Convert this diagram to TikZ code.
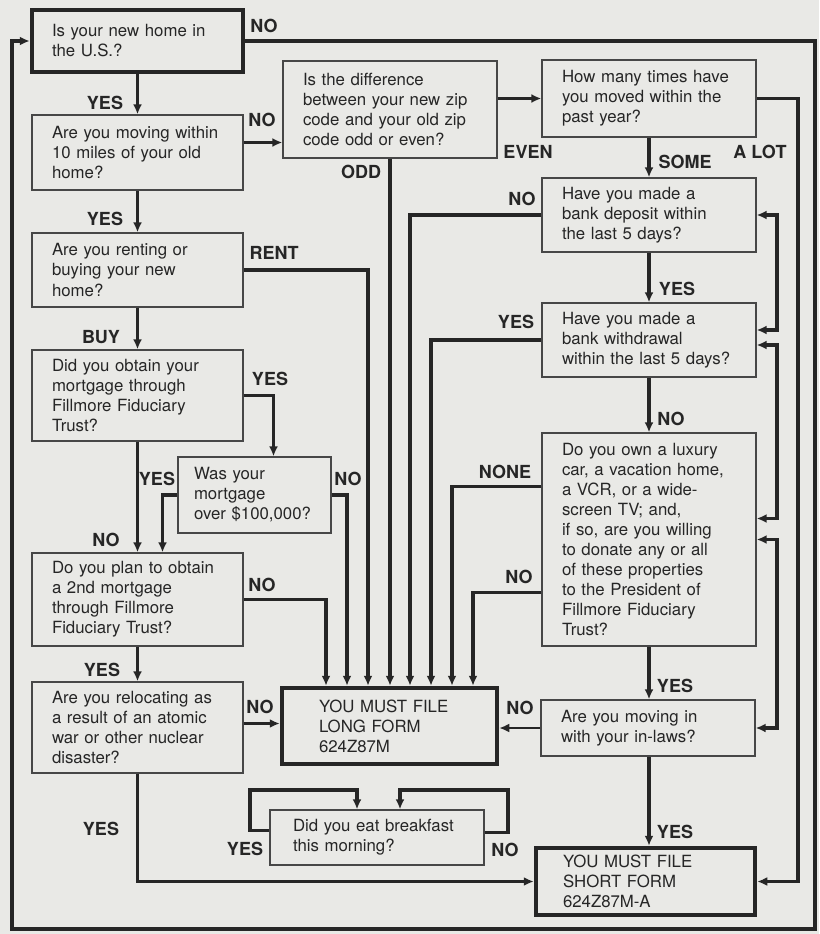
\documentclass[tikz,border=0pt]{standalone}
\usepackage{fontspec}
\setmainfont{TeX Gyre Heros}
\usepackage{tikz}
\usetikzlibrary{arrows.meta,calc}
\definecolor{paper}{RGB}{233,233,230}
\definecolor{ink}{RGB}{38,38,38}
\newcommand{\qfont}{\fontsize{16.8}{20}\selectfont}
\newcommand{\lfont}{\bfseries\fontsize{18}{20}\selectfont}

\begin{document}
\begin{tikzpicture}[x=1pt,y=-1pt,
  >={Latex[length=10pt,width=9pt]},
  q/.style n args={3}{draw=ink!85,line width=1.3pt,text=ink,font=\qfont,align=left,
    inner xsep=20pt,inner ysep=0pt,minimum width=#1,minimum height=#2,text width=#3},
  endbox/.style={line width=4.5pt,draw=ink},
  flow/.style={draw=ink,line width=3.2pt,->},
  flow2/.style={draw=ink,line width=3.2pt,<->},
  lbl/.style={text=ink,font=\lfont,inner sep=0pt}]
\fill [paper] (0,0) rectangle (819,934);
\useasboundingbox (0,0) rectangle (819,934);
\node [q={211pt}{62pt}{171pt},endbox] (home) at (137.5,41) {Is your new home in\\the U.S.?};
\node [q={211pt}{75pt}{171pt}] (near) at (137.5,152.5) {Are you moving within\\10 miles of your old\\home?};
\node [q={211pt}{74pt}{171pt}] (rent) at (137.5,270) {Are you renting or\\buying your new\\home?};
\node [q={211pt}{91pt}{171pt}] (mort) at (137.5,395.5) {Did you obtain your\\mortgage through\\Fillmore Fiduciary\\Trust?};
\node [q={153pt}{76pt}{121pt},inner xsep=16pt] (over) at (254.5,495) {Was your\\mortgage\\over \$100,000?};
\node [q={211pt}{93pt}{171pt}] (second) at (137.5,599.5) {Do you plan to obtain\\a 2nd mortgage\\through Fillmore\\Fiduciary Trust?};
\node [q={211pt}{91pt}{171pt}] (atomic) at (137.5,727.5) {Are you relocating as\\a result of an atomic\\war or other nuclear\\disaster?};
\node [q={214pt}{97pt}{174pt}] (zip) at (390,109.5) {Is the difference\\between your new zip\\code and your old zip\\code odd or even?};
\node [q={214pt}{77pt}{174pt}] (moves) at (649,98.5) {How many times have\\you moved within the\\past year?};
\node [q={214pt}{74pt}{174pt}] (deposit) at (649,215) {Have you made a\\bank deposit within\\the last 5 days?};
\node [q={214pt}{74pt}{174pt}] (withdraw) at (649,340) {Have you made a\\bank withdrawal\\within the last 5 days?};
\node [q={214pt}{213pt}{174pt}] (luxury) at (649,539.5) {Do you own a luxury\\car, a vacation home,\\a VCR, or a wide-\\screen TV; and,\\if so, are you willing\\to donate any or all\\of these properties\\to the President of\\Fillmore Fiduciary\\Trust?};
\node [q={214pt}{56pt}{174pt}] (inlaws) at (648,728) {Are you moving in\\with your in-laws?};
\node [q={215pt}{76pt}{141pt},inner xsep=37pt,endbox] (long) at (389.5,726) {YOU MUST FILE\\LONG FORM\\624Z87M};
\node [q={219pt}{67pt}{165pt},inner xsep=27pt,endbox] (short) at (645.5,881.5) {YOU MUST FILE\\SHORT FORM\\624Z87M-A};
\node [q={214pt}{55pt}{168pt},inner xsep=23pt] (bfast) at (377,837.5) {Did you eat breakfast\\this morning?};
\coordinate (c1) at (326,0);
\coordinate (c2) at (347,0);
\coordinate (c3) at (368,0);
\coordinate (c5) at (410,0);
\coordinate (c6) at (431,0);
\coordinate (c7) at (452,0);
\coordinate (c8) at (473,0);
\coordinate (rail) at (777,0);
\coordinate (alot) at (798,500);
\coordinate (loopR) at (815,929);
\coordinate (loopL) at (12,929);
\coordinate (by) at (250,790);
\coordinate (bn) at (508,790);
\draw [flow] (home.east) -| (loopR) |- (loopL) |- (home.west);
\draw [flow] (home.south) -- (near.north);
\draw [flow,line width=2.4pt] ($(near.east)+(0,-10)$) coordinate (nz) -- (nz -| zip.west);
\draw [flow] (near.south) -- (rent.north);
\draw [flow] (rent.east) -| (c3 |- long.north);
\draw [flow] (rent.south) -- (mort.north);
\draw [flow] (mort.east) -| ($(over.north)+(19,0)$);
\draw [flow] (mort.south) -- (second.north);
\draw [flow] (over.west) -| ($(second.north)+(25,0)$);
\draw [flow] (over.east) -| (c2 |- long.north);
\draw [flow] (second.east) -| (c1 |- long.north);
\draw [flow] (second.south) -- (atomic.north);
\draw [flow,line width=2.4pt] ($(atomic.east)+(0,-4)$) coordinate (an) -- (an -| long.west);
\draw [flow] (atomic.south) |- (short.west);
\draw [flow] (zip.south) -- (zip.south |- long.north);
\draw [flow] (zip.east |- moves.west) -- (moves.west);
\draw [flow] (moves.east) -| (alot) |- (short.east);
\draw [flow] (moves.south) -- (deposit.north);
\draw [flow] (deposit.west) -| (c5 |- long.north);
\draw [flow] (deposit.south) -- (withdraw.north);
\draw [flow] (withdraw.west) -| (c6 |- long.north);
\draw [flow] (withdraw.south) -- (luxury.north);
\draw [flow] ($(luxury.west)+(0,-53)$) -| (c7 |- long.north);
\draw [flow] ($(luxury.west)+(0,53)$) -| (c8 |- long.north);
\draw [flow] (luxury.south) -- (luxury.south |- inlaws.north);
\draw [flow,line width=2.4pt] (inlaws.west) -- (inlaws.west -| long.east);
\draw [flow] (luxury.south |- inlaws.south) -- (luxury.south |- short.north);
\draw [flow2] (deposit.east) -- (deposit.east -| rail) |- ($(withdraw.east)+(0,-10)$);
\draw [flow2] ($(withdraw.east)+(0,5)$) coordinate (w2) -- (w2 -| rail) |- ($(luxury.east)+(0,-21)$);
\draw [flow2] (luxury.east) -- (luxury.east -| rail) |- (inlaws.east);
\draw [flow] ($(bfast.west)+(0,-7)$) -| (by) -| ($(bfast.north)+(-20,0)$);
\draw [flow] ($(bfast.east)+(0,-5)$) -| (bn) -| ($(bfast.north)+(23,0)$);
\node [lbl] (lno1) at (264,26) {NO};
\node [lbl] (lyes1) at (105,103) {YES};
\node [lbl] (lno2) at (262,120) {NO};
\node [lbl] (lodd) at (361,172) {ODD};
\node [lbl] (lyes2) at (105,219) {YES};
\node [lbl] (lrent) at (274,253) {RENT};
\node [lbl] (leven) at (528,152) {EVEN};
\node [lbl] (lsome) at (685,162) {SOME};
\node [lbl] (lalot) at (760,152) {A LOT};
\node [lbl] (lno3) at (522,199) {NO};
\node [lbl] (lyes3) at (677,289) {YES};
\node [lbl] (lyes4) at (516,322) {YES};
\node [lbl] (lbuy) at (101,337) {BUY};
\node [lbl] (lyes5) at (270,379) {YES};
\node [lbl] (lno4) at (671,419) {NO};
\node [lbl] (lnone) at (505,472) {NONE};
\node [lbl] (lyes6) at (157,479) {YES};
\node [lbl] (lno5) at (348,479) {NO};
\node [lbl] (lno6) at (106,540) {NO};
\node [lbl] (lno7) at (519,577) {NO};
\node [lbl] (lno8) at (262,585) {NO};
\node [lbl] (lyes7) at (102,670) {YES};
\node [lbl] (lyes8) at (675,686) {YES};
\node [lbl] (lno9) at (260,707) {NO};
\node [lbl] (lno10) at (520,708) {NO};
\node [lbl] (lyes9) at (101,829) {YES};
\node [lbl] (lyes10) at (675,832) {YES};
\node [lbl] (lyes11) at (245,849) {YES};
\node [lbl] (lno11) at (505,850) {NO};
\end{tikzpicture}
\end{document}
